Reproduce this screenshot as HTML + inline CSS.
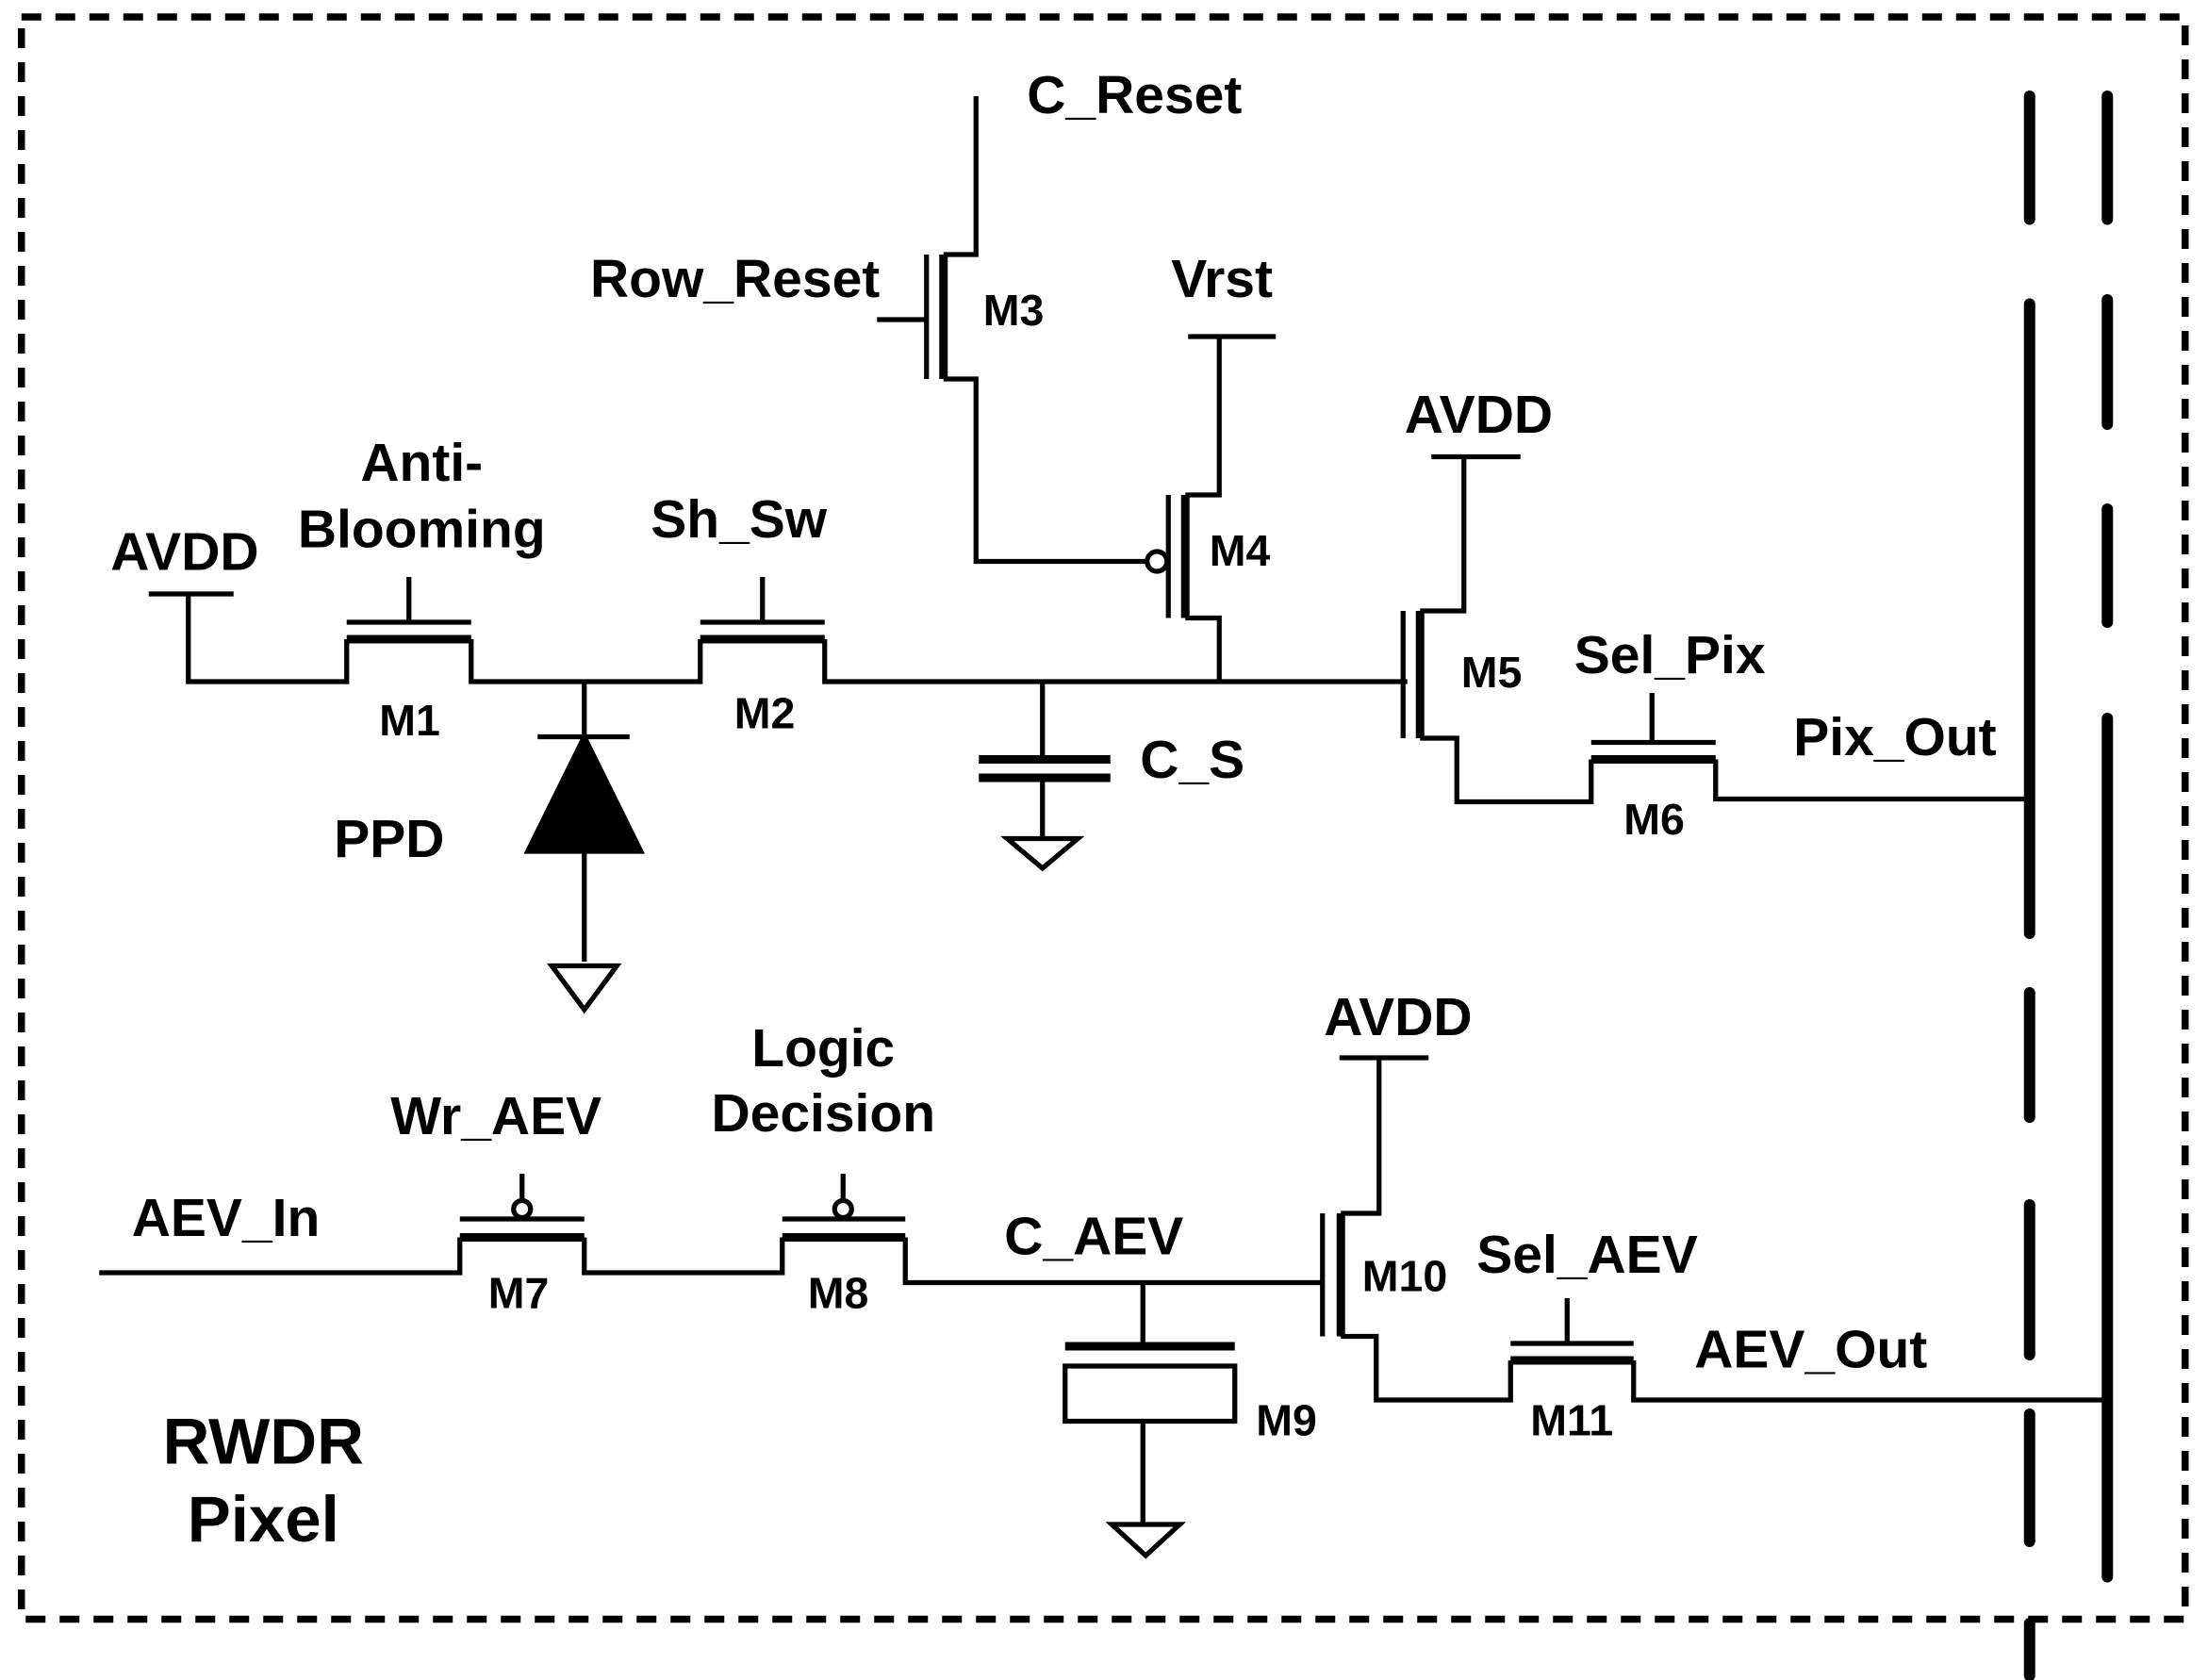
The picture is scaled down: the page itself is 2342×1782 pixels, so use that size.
<!DOCTYPE html>
<html><head><meta charset="utf-8"><style>
html,body{margin:0;padding:0;background:#fff}
svg{display:block}
text{font-family:"Liberation Sans",Arial,sans-serif;font-weight:bold;fill:#000}
</style></head><body>
<svg width="2342" height="1782" viewBox="0 0 1561 1188" xmlns="http://www.w3.org/2000/svg">
<g fill="none" stroke="#000" stroke-width="3.5">
<rect x="15" y="12" width="1530" height="1133" stroke-width="5" stroke-dasharray="14,10"/>
<g stroke-width="8" stroke-linecap="round">
<line x1="1435" y1="68" x2="1435" y2="155"/>
<line x1="1435" y1="215" x2="1435" y2="660"/>
<line x1="1435" y1="702" x2="1435" y2="790"/>
<line x1="1435" y1="852" x2="1435" y2="958"/>
<line x1="1435" y1="1000" x2="1435" y2="1090"/>
<line x1="1435" y1="1148" x2="1435" y2="1185"/>
<line x1="1490" y1="68" x2="1490" y2="155"/>
<line x1="1490" y1="212" x2="1490" y2="300"/>
<line x1="1490" y1="360" x2="1490" y2="440"/>
<line x1="1490" y1="508" x2="1490" y2="1115"/>
</g>
<path d="M105 420H165M133 420V482H245V452M333 452V482H495V452M583 452V482H995"/>
<path d="M245 440H333M289 408V440M495 440H583M539 408V440"/>
<path d="M245 452H333M495 452H583" stroke-width="6"/>
<path d="M413 482V680M380 521H445"/>
<polygon points="413,521 373,602 453,602" fill="#000"/>
<polygon points="390,683 436,683 413,714"/>
<path d="M737 482V537M737 550V592"/>
<path d="M692 537H785M692 550H785" stroke-width="6"/>
<polygon points="712,593 762,593 737,614"/>
<path d="M690 68V180H667M667 268H690V397H811M620 226H655M655 180V268"/>
<path d="M667 180V268" stroke-width="6"/>
<circle cx="818" cy="397" r="7" fill="#fff"/>
<path d="M826 350V437M838 350H862V238M840 238H902M838 437H862V482"/>
<path d="M838 350V437" stroke-width="6"/>
<path d="M992 432V522M1004 432H1035V323M1012 323H1075M1004 522H1030V567H1125V537M1213 537V565H1435"/>
<path d="M1004 432V522" stroke-width="6"/>
<path d="M1125 525H1213M1168 490V525"/>
<path d="M1125 537H1213" stroke-width="6"/>
<path d="M70 900H325V875M413 875V900H553V875M640 875V907H935"/>
<path d="M325 862H413M553 862H640M369 830V849M596 830V849"/>
<circle cx="369" cy="855" r="6" fill="#fff"/>
<circle cx="596" cy="855" r="6" fill="#fff"/>
<path d="M325 875H413M553 875H640" stroke-width="6"/>
<path d="M808 907V950M808 1005V1078"/>
<path d="M753 952H873" stroke-width="6"/>
<rect x="753" y="966" width="120" height="39"/>
<polygon points="786,1078 834,1078 810,1100"/>
<path d="M935 858V945M948 858H975V748M947 748H1010M948 945H973V990H1068V962M1155 962V990H1490"/>
<path d="M948 858V945" stroke-width="6"/>
<path d="M1068 950H1155M1108 918V950"/>
<path d="M1068 962H1155" stroke-width="6"/>
</g>
<g font-size="38">
<text x="726" y="80">C_Reset</text>
<text x="622" y="210" text-anchor="end">Row_Reset</text>
<text x="828" y="210">Vrst</text>
<text x="993" y="306">AVDD</text>
<text x="1113" y="476">Sel_Pix</text>
<text x="1268" y="534">Pix_Out</text>
<text x="460" y="380">Sh_Sw</text>
<text x="298" y="340" text-anchor="middle">Anti-</text>
<text x="298" y="387" text-anchor="middle">Blooming</text>
<text x="78" y="403">AVDD</text>
<text x="236" y="606">PPD</text>
<text x="806" y="550">C_S</text>
<text x="936" y="732">AVDD</text>
<text x="276" y="802">Wr_AEV</text>
<text x="582" y="754" text-anchor="middle">Logic</text>
<text x="582" y="800" text-anchor="middle">Decision</text>
<text x="93" y="874">AEV_In</text>
<text x="710" y="887">C_AEV</text>
<text x="1044" y="900">Sel_AEV</text>
<text x="1198" y="967">AEV_Out</text>
</g>
<g font-size="31">
<text x="695" y="230">M3</text>
<text x="855" y="400">M4</text>
<text x="1033" y="486">M5</text>
<text x="1148" y="590">M6</text>
<text x="519" y="515">M2</text>
<text x="268" y="520">M1</text>
<text x="345" y="925">M7</text>
<text x="571" y="925">M8</text>
<text x="963" y="913">M10</text>
<text x="1082" y="1015">M11</text>
<text x="888" y="1015">M9</text>
</g>
<g font-size="46">
<text x="186" y="1035" text-anchor="middle">RWDR</text>
<text x="186" y="1090" text-anchor="middle">Pixel</text>
</g>
</svg>
</body></html>
